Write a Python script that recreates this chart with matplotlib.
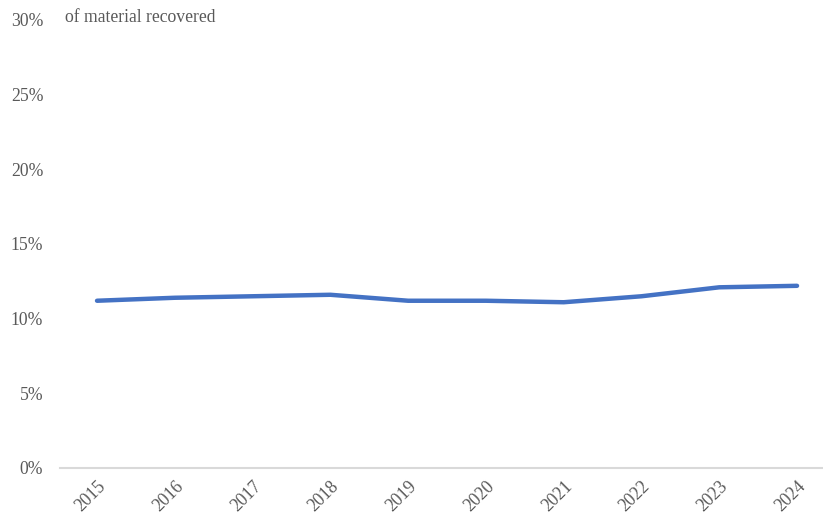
import matplotlib.pyplot as plt
from matplotlib.ticker import PercentFormatter

years = ["2015", "2016", "2017", "2018", "2019", "2020", "2021", "2022", "2023", "2024"]
recovered = [11.2, 11.4, 11.5, 11.6, 11.2, 11.2, 11.1, 11.5, 12.1, 12.2]

plt.rcParams["font.family"] = ["Liberation Serif", "DejaVu Serif"]
grey = "#595959"

fig = plt.figure(figsize=(8.23, 5.18), dpi=100)
ax = fig.add_axes([60 / 823, 50 / 518, 763 / 823, 448 / 518])

x = range(len(years))
ax.plot(x, recovered, color="#4472C4", linewidth=3.2, solid_capstyle="round", solid_joinstyle="round")

ax.set_ylim(0, 30)
ax.set_xlim(-0.476, 9.334)
ax.set_yticks(range(0, 31, 5))
ax.yaxis.set_major_formatter(PercentFormatter(decimals=0))
ax.set_xticks(list(x))
ax.set_xticklabels(years, rotation=45, ha="right", rotation_mode="anchor")

for side in ["top", "right", "left"]:
    ax.spines[side].set_visible(False)
ax.spines["bottom"].set_color("#D9D9D9")
ax.spines["bottom"].set_linewidth(1.5)
ax.tick_params(axis="both", length=0, labelsize=12.7, colors=grey)
ax.tick_params(axis="x", pad=7)
ax.tick_params(axis="y", pad=12)

fig.text(65 / 823, 1 - 22 / 518, "of material recovered", fontsize=12.7, color=grey)

fig.savefig("out.png", dpi=100)
